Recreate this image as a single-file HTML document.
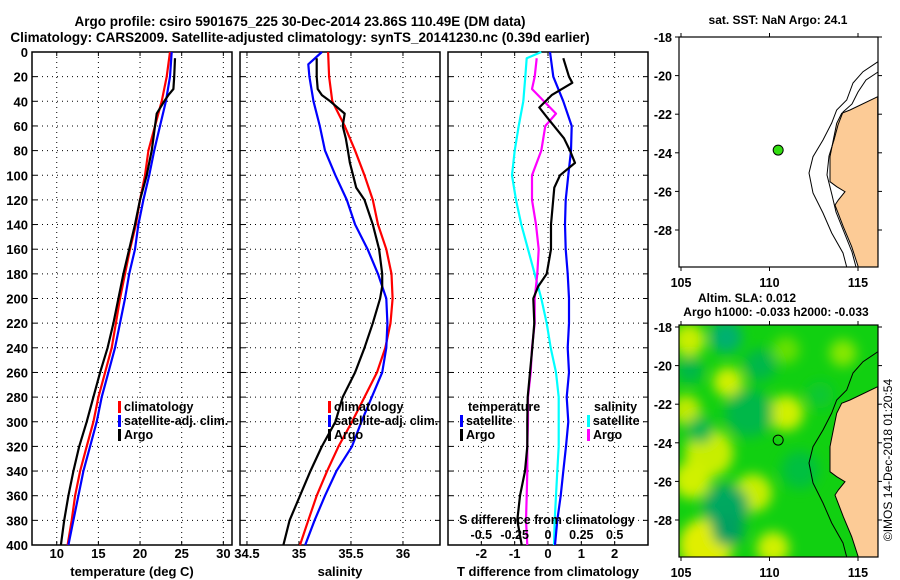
<!DOCTYPE html>
<html><head><meta charset="utf-8"><style>
html,body{margin:0;padding:0;background:#fff;}
svg{display:block;font-family:"Liberation Sans",sans-serif;font-weight:bold;}
</style></head><body>
<svg id="s" width="900" height="580" viewBox="0 0 900 580" xmlns="http://www.w3.org/2000/svg">
<defs><filter id="bl" x="-20%" y="-20%" width="140%" height="140%"><feGaussianBlur stdDeviation="6"/></filter>
<clipPath id="mapclip"><rect x="679" y="325" width="199" height="232"/></clipPath></defs>
<text x="300" y="26" text-anchor="middle" font-size="13.5">Argo profile: csiro 5901675_225 30-Dec-2014 23.86S 110.49E (DM data)</text>
<text x="300" y="42" text-anchor="middle" font-size="13.5">Climatology: CARS2009. Satellite-adjusted climatology: synTS_20141230.nc (0.39d earlier)</text>
<g id="plots"></g>
<g id="maps"></g>
<text transform="translate(892,460) rotate(-90)" text-anchor="middle" font-size="12" font-weight="normal">©IMOS 14-Dec-2018 01:20:54</text>
</svg>
<script>
// ---- data ----
const depthTicks=[0,20,40,60,80,100,120,140,160,180,200,220,240,260,280,300,320,340,360,380,400];
const tTicks=[10,15,20,25,30];
const sTicks=[34.5,35,35.5,36];
const sTickLabels=['34.5','35','35.5','36'];
const dTicks=[-2,-1,0,1,2];
const sdTicks=[-0.5,-0.25,0,0.25,0.5];
const sdTickLabels=['-0.5','-0.25','0','0.25','0.5'];
const depths=[0,20,40,60,80,100,120,140,160,180,200,220,240,260,280,300,320,340,360,380,400];
const tempClim=[23.6,23.2,22.6,21.8,21.0,20.6,20.0,19.5,18.8,18.2,17.6,17.1,16.6,15.8,15.0,14.4,13.6,12.8,12.2,11.8,11.3];
const tempSat=[23.8,23.6,23.1,22.4,21.7,21.1,20.4,19.8,19.4,18.7,18.2,17.6,17.0,16.2,15.4,14.8,14.0,13.2,12.6,12.0,11.4];
const argoDepths=[5,20,30,35,40,50,60,70,80,90,100,110,120,140,160,180,190,200,220,240,260,280,300,320,340,360,380,400];
const tempArgo=[24.2,24.1,24.0,23.4,22.9,22.0,21.8,21.6,21.4,21.1,20.8,20.4,20.0,19.4,18.7,18.0,17.7,17.4,16.8,16.1,15.2,14.4,13.6,12.7,12.0,11.4,10.9,10.5];
const salClimDepths=[0,20,40,60,80,100,120,140,160,180,200,220,240,260,280,300,320,340,360,380,400];
const salClim=[35.28,35.29,35.32,35.44,35.54,35.63,35.71,35.76,35.84,35.89,35.90,35.88,35.83,35.75,35.63,35.51,35.38,35.27,35.17,35.09,35.01];
const salSatDepths=[0,10,20,40,60,80,100,120,140,160,180,200,220,240,260,280,300,320,340,360,380,400];
const salSat=[35.22,35.09,35.10,35.14,35.20,35.25,35.35,35.46,35.54,35.66,35.76,35.84,35.85,35.84,35.80,35.70,35.60,35.51,35.36,35.25,35.15,35.06];
const salArgo=[35.17,35.17,35.18,35.22,35.30,35.44,35.42,35.45,35.47,35.49,35.52,35.55,35.63,35.71,35.77,35.80,35.80,35.78,35.71,35.63,35.54,35.42,35.35,35.22,35.11,35.01,34.91,34.85];
const diffDepths=[0,20,40,60,80,100,120,140,160,180,200,220,240,260,280,300,320,340,360,380,400];
const tDiffSat=[0.06,0.16,0.46,0.71,0.69,0.61,0.53,0.51,0.53,0.59,0.63,0.63,0.59,0.63,0.56,0.61,0.54,0.46,0.38,0.28,0.21];
const tDiffArgoDepths=[5,20,25,35,45,55,70,80,90,100,110,140,160,180,190,200,220,240,260,280,300,320,340,360,380,400];
const tDiffArgo=[0.46,0.63,0.73,0.11,-0.26,0.03,0.48,0.66,0.81,0.36,0.19,0.09,0.09,-0.04,-0.29,-0.44,-0.41,-0.47,-0.54,-0.61,-0.62,-0.62,-0.69,-0.84,-0.92,-0.79];
const sDiffSatDepths=[0,5,20,40,60,80,100,120,140,160,180,200,220,240,260,280,300,320,340,360,380,400];
const sDiffSat=[-0.05,-0.16,-0.17,-0.185,-0.22,-0.25,-0.27,-0.24,-0.2,-0.15,-0.1,-0.05,-0.01,0.02,0.06,0.08,0.08,0.08,0.07,0.06,0.05,0.045];
const sDiffArgoDepths=[5,20,30,50,60,80,100,120,140,160,180,200,220,240,260,280,300,320,340,360,380,400];
const sDiffArgo=[-0.085,-0.1,-0.12,0.06,-0.02,-0.05,-0.12,-0.12,-0.09,-0.07,-0.08,-0.1,-0.1,-0.12,-0.13,-0.15,-0.15,-0.155,-0.155,-0.16,-0.165,-0.155];
const mapLatTicks=[-18,-20,-22,-24,-26,-28];
const mapLonTicks=[105,110,115];
const argoLon=110.49, argoLat=-23.86;

// ---- helpers ----
const NS='http://www.w3.org/2000/svg';
function mk(tag,attrs,parent,txt){const e=document.createElementNS(NS,tag);for(const k in attrs)e.setAttribute(k,attrs[k]);if(txt!==undefined)e.textContent=txt;parent.appendChild(e);return e;}
const Y0=52,Y1=545;
const yD=d=>Y0+(d/400)*(Y1-Y0);
const plots=document.getElementById('plots');

function panel(name,x0,x1,xmin,xmax,xt,xtl,xlabel,ylabels){
  const g=mk('g',{},plots);
  
  
  const sx=v=>x0+(v-xmin)/(xmax-xmin)*(x1-x0);
  xt.forEach((v,i)=>{
    const l=mk('line',{x1:sx(v),x2:sx(v),y1:Y0,y2:Y1,stroke:'#000','stroke-width':1,'stroke-dasharray':'1,4'},g);
    
    
    mk('line',{x1:sx(v),x2:sx(v),y1:Y1,y2:Y1-4,stroke:'#000'},g);
    mk('line',{x1:sx(v),x2:sx(v),y1:Y0,y2:Y0+4,stroke:'#000'},g);
    if(xtl){const t=mk('text',{x:sx(v),y:558,'text-anchor':'middle','font-size':13},g,xtl[i]);
    
    }
  });
  depthTicks.forEach(d=>{
    if(d>0&&d<400){const l=mk('line',{x1:x0,x2:x1,y1:yD(d),y2:yD(d),stroke:'#000','stroke-width':1,'stroke-dasharray':'1,4'},g);
    
    }
    mk('line',{x1:x0,x2:x0+5,y1:yD(d),y2:yD(d),stroke:'#000'},g);
    mk('line',{x1:x1,x2:x1-5,y1:yD(d),y2:yD(d),stroke:'#000'},g);
    if(ylabels){const t=mk('text',{x:28,y:yD(d)+5,'text-anchor':'end','font-size':13},g,String(d));
    
    }
  });
  const b=mk('rect',{x:x0,y:Y0,width:x1-x0,height:Y1-Y0,fill:'none',stroke:'#000','stroke-width':1.5},g);
  
  
  const xl=mk('text',{x:(x0+x1)/2,y:576,'text-anchor':'middle','font-size':13},g,xlabel);
  
  
  return {g,sx};
}
function series(p,ds,vs,color,name,w){
  const pts=ds.map((d,i)=>p.sx(vs[i]).toFixed(1)+','+yD(d).toFixed(1)).join(' ');
  const l=mk('polyline',{points:pts,fill:'none',stroke:color,'stroke-width':w||2.2,'stroke-linejoin':'round'},p.g);
  
  
}
function legend(g,x,y,color,label,name){
  const e=mk('g',{},g);
  
  
  mk('rect',{x:x,y:y-10,width:3,height:12,fill:color},e);
  mk('text',{x:x+6,y:y,'font-size':12.5},e,label);
}

const p1=panel('temperature-panel',32,232,7.03,31.04,tTicks,tTicks.map(String),'temperature (deg C)',true);
series(p1,depths,tempClim,'#f00','temp-climatology-line');
series(p1,depths,tempSat,'#00f','temp-satellite-line');
series(p1,argoDepths,tempArgo,'#000','temp-argo-line');
legend(p1.g,118,411,'#f00','climatology','legend-climatology');
legend(p1.g,118,425,'#00f','satellite-adj. clim.','legend-satellite');
legend(p1.g,118,439,'#000','Argo','legend-argo');

const p2=panel('salinity-panel',240,440,34.433,36.356,sTicks,sTickLabels,'salinity',false);
series(p2,salClimDepths,salClim,'#f00','sal-climatology-line');
series(p2,salSatDepths,salSat,'#00f','sal-satellite-line');
series(p2,argoDepths,salArgo,'#000','sal-argo-line');
legend(p2.g,328,411,'#f00','climatology','legend-climatology');
legend(p2.g,328,425,'#00f','satellite-adj. clim.','legend-satellite');
legend(p2.g,328,439,'#000','Argo','legend-argo');

const p3=panel('difference-panel',448,648,-3,3,dTicks,dTicks.map(String),'T difference from climatology',false);
const sdx=v=>p3.sx(v*4);
const sdScale={g:p3.g,sx:sdx};
series(sdScale,sDiffSatDepths,sDiffSat,'#0ff','s-diff-satellite-line');
series(sdScale,sDiffArgoDepths,sDiffArgo,'#f0f','s-diff-argo-line');
series(p3,diffDepths,tDiffSat,'#00f','t-diff-satellite-line');
series(p3,tDiffArgoDepths,tDiffArgo,'#000','t-diff-argo-line');
let t=mk('text',{x:547,y:524,'text-anchor':'middle','font-size':12.5},p3.g,'S difference from climatology');


sdTicks.forEach((v,i)=>{const tl=mk('text',{x:sdx(v),y:539,'text-anchor':'middle','font-size':12.5},p3.g,sdTickLabels[i]);

});
t=mk('text',{x:468,y:411,'font-size':12.5},p3.g,'temperature');


t=mk('text',{x:594,y:411,'font-size':12.5},p3.g,'salinity');


legend(p3.g,460,425,'#00f','satellite','legend-t-satellite');
legend(p3.g,460,439,'#000','Argo','legend-t-argo');
legend(p3.g,587,425,'#0ff','satellite','legend-s-satellite');
legend(p3.g,587,439,'#f0f','Argo','legend-s-argo');

// ---- maps ----
const maps=document.getElementById('maps');
const MX0=679,MX1=878;
const lonX=l=>681+(l-105)*17.7;
const land='877.7,96.7 850,110 841.7,113.3 836.7,123.3 833.3,140 830,156.7 830,181.7 836.7,186.7 845,191.7 838.3,200 835,205 843.3,226.7 851.7,246.7 858.3,267 878,267';
const shelf='878,61.7 863,71.7 853,83 846.7,100 836.7,110 831.7,123 823,140 813,156.7 809,173 813,193 823,213 831.7,233 843,253 846.7,267';
const coast2='878,72 866,80 858,92 852,104 843,112 838,125 834,140 829,156 827,175 832,195 836,212 844,232 852,252 856,267';
function mapFrame(name,off){
  const g=mk('g',{},maps);
  
  
  const latY=la=>37+off+(-18-la)*19.3;
  return {g,latY};
}
const m1=mapFrame('sst-map',0);
mk('rect',{x:MX0,y:37,width:MX1-MX0,height:230,fill:'#fff'},m1.g);
let e=mk('polygon',{points:land,fill:'#fccb96',stroke:'#000','stroke-width':1},m1.g);


mk('polyline',{points:shelf,fill:'none',stroke:'#000','stroke-width':1},m1.g);
mk('polyline',{points:coast2,fill:'none',stroke:'#000','stroke-width':1},m1.g);
e=mk('circle',{cx:lonX(argoLon),cy:m1.latY(argoLat),r:5,fill:'#33dd11',stroke:'#000','stroke-width':1},m1.g);


t=mk('text',{x:778,y:24,'text-anchor':'middle','font-size':12},m1.g,'sat. SST: NaN Argo: 24.1');



const m2=mapFrame('sla-map',290);
const hg=mk('g',{'clip-path':'url(#mapclip)'},m2.g);
mk('rect',{x:MX0,y:325,width:MX1-MX0,height:232,fill:'#11d011'},hg);
const bg=mk('g',{filter:'url(#bl)'},hg);
const blobs=[[689,340,12,'#c8ee00'],[726,337,12,'#00b070'],[728,382,11,'#d0f000'],[786,413,13,'#d0f000'],[686,410,11,'#c0ea00'],
[749,413,18,'#00b848'],[709,453,18,'#c8ee00'],[692,480,14,'#d0f000'],[753,493,14,'#c8ee00'],[706,545,20,'#e0ee00'],[773,548,12,'#d0f000'],
[726,507,17,'#00a860'],[728,530,12,'#00a060'],[786,350,10,'#66e000'],[843,353,10,'#88e800'],[700,430,10,'#00b850'],[760,365,12,'#00b848'],[820,395,10,'#10c830'],[855,420,8,'#a0ea00'],[690,370,10,'#00b848'],[800,470,14,'#00c040']];
blobs.forEach(b=>{mk('circle',{cx:b[0],cy:b[1],r:b[2]*1.35,fill:b[3]},bg);});
const l2=mk('polygon',{points:land,fill:'#fccb96',stroke:'#000','stroke-width':1,transform:'translate(0,290)'},hg);


mk('polyline',{points:shelf,fill:'none',stroke:'#000','stroke-width':1,transform:'translate(0,290)'},hg);
e=mk('circle',{cx:lonX(argoLon),cy:m2.latY(argoLat),r:5,fill:'none',stroke:'#000','stroke-width':1},m2.g);


t=mk('text',{x:747,y:302,'text-anchor':'middle','font-size':12},m2.g,'Altim. SLA: 0.012');


t=mk('text',{x:776,y:316,'text-anchor':'middle','font-size':12},m2.g,'Argo h1000: -0.033 h2000: -0.033');



[m1,m2].forEach((m,mi)=>{
  const top=mi?325:37,bot=mi?557:267;
  mk('rect',{x:MX0,y:top,width:MX1-MX0,height:bot-top,fill:'none',stroke:'#000','stroke-width':1.2},m.g);
  mapLatTicks.forEach(la=>{
    const y=m.latY(la);
    mk('line',{x1:MX0-4,x2:MX0,y1:y,y2:y,stroke:'#000'},m.g);
    mk('line',{x1:MX1,x2:MX1+4,y1:y,y2:y,stroke:'#000'},m.g);
    const tl=mk('text',{x:672,y:y+5,'text-anchor':'end','font-size':12.5},m.g,String(la));
    
    
  });
  mapLonTicks.forEach(lo=>{
    const x=lonX(lo);
    mk('line',{x1:x,x2:x,y1:bot,y2:bot+4,stroke:'#000'},m.g);
    mk('line',{x1:x,x2:x,y1:top-4,y2:top,stroke:'#000'},m.g);
    const tl=mk('text',{x:x,y:bot+20,'text-anchor':'middle','font-size':12.5},m.g,String(lo));
    
    
  });
});
</script>
</body></html>
